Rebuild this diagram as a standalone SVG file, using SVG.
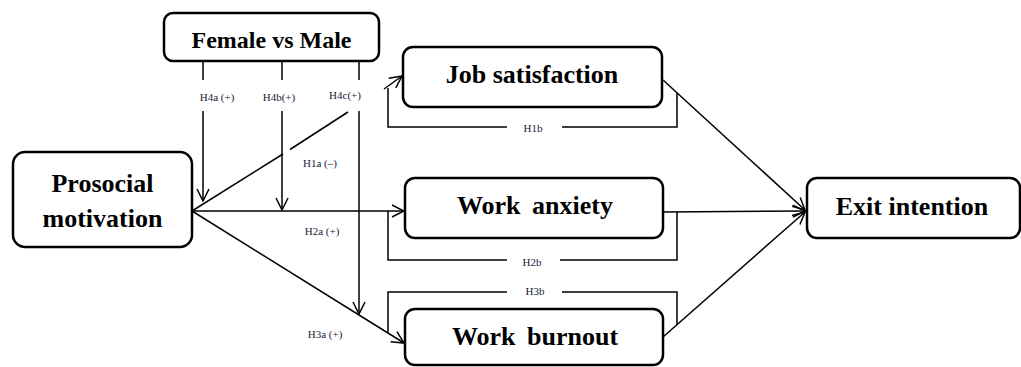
<svg xmlns="http://www.w3.org/2000/svg" width="1021" height="367" viewBox="0 0 1021 367">
<style>
.box{fill:#fff;stroke:#000;stroke-width:2.5}
.t{font-family:"Liberation Serif","Times New Roman",serif;font-weight:bold;font-size:26px;fill:#000;text-anchor:middle}
.c{fill:none;stroke:#000;stroke-width:1.5}
.l{font-family:"Liberation Serif","Times New Roman",serif;font-size:11px;fill:#1a2238;text-anchor:middle}
</style>
<defs>
<marker id="a" viewBox="0 0 14 14" refX="13" refY="7" markerWidth="14" markerHeight="14" markerUnits="userSpaceOnUse" orient="auto">
<path d="M1,1 L13,7 L1,13" fill="none" stroke="#000" stroke-width="1.5"/>
</marker>
</defs>
<rect width="1021" height="367" fill="#fff"/>
<g id="connectors">
<line class="c" x1="203" y1="61" x2="203" y2="80"/>
<line class="c" x1="282" y1="61" x2="282" y2="80"/>
<line class="c" x1="359" y1="61" x2="359" y2="80"/>
<line class="c" x1="203" y1="111" x2="203" y2="201" marker-end="url(#a)"/>
<line class="c" x1="282" y1="111" x2="282" y2="210" marker-end="url(#a)"/>
<line class="c" x1="359" y1="111" x2="359" y2="314" marker-end="url(#a)"/>
<line class="c" x1="192" y1="211" x2="283" y2="154"/>
<line class="c" x1="290" y1="149.5" x2="348" y2="112"/>
<line class="c" x1="384" y1="89" x2="402" y2="76" marker-end="url(#a)"/>
<path class="c" d="M677,93 L677,127 L562,127 M507,127 L388,127 L388,88"/>
<line class="c" x1="192" y1="211" x2="404" y2="211" marker-end="url(#a)"/>
<path class="c" d="M388,211 L388,260 L507,260 M560,260 L677,260 L677,212"/>
<line class="c" x1="192" y1="211" x2="404" y2="343" marker-end="url(#a)"/>
<path class="c" d="M388,333 L388,292 L507,292 M562,292 L677,292 L677,325"/>
<line class="c" x1="663" y1="80" x2="805" y2="210" marker-end="url(#a)"/>
<line class="c" x1="663" y1="212" x2="805" y2="211" marker-end="url(#a)"/>
<line class="c" x1="663" y1="337" x2="805" y2="212" marker-end="url(#a)"/>
<text class="l" x="217" y="101">H4a (+)</text>
<text class="l" x="279" y="101">H4b(+)</text>
<text class="l" x="345" y="99">H4c(+)</text>
<text class="l" x="320" y="167">H1a (–)</text>
<text class="l" x="322" y="235">H2a (+)</text>
<text class="l" x="325" y="338">H3a (+)</text>
<text class="l" x="533" y="132">H1b</text>
<text class="l" x="532" y="266">H2b</text>
<text class="l" x="535" y="295">H3b</text>
</g>
<g id="female-vs-male">
<rect class="box" x="164" y="13" width="215" height="48" rx="9"/>
<text class="t" x="271.5" y="48" style="font-size:24px">Female vs Male</text>
</g>
<g id="prosocial-motivation">
<rect class="box" x="13" y="152" width="179" height="95" rx="12"/>
<text class="t" x="102.5" y="192">Prosocial</text>
<text class="t" x="102.5" y="227">motivation</text>
</g>
<g id="job-satisfaction">
<rect class="box" x="403" y="47" width="259" height="60" rx="10"/>
<text class="t" x="532" y="83">Job satisfaction</text>
</g>
<g id="work-anxiety">
<rect class="box" x="405" y="178" width="258" height="60" rx="10"/>
<text class="t" x="535" y="214" word-spacing="5">Work anxiety</text>
</g>
<g id="work-burnout">
<rect class="box" x="405" y="309" width="258" height="56" rx="10"/>
<text class="t" x="535" y="345" word-spacing="5">Work burnout</text>
</g>
<g id="exit-intention">
<rect class="box" x="807" y="178" width="213" height="60" rx="10"/>
<text class="t" x="912" y="215">Exit intention</text>
</g>
</svg>
